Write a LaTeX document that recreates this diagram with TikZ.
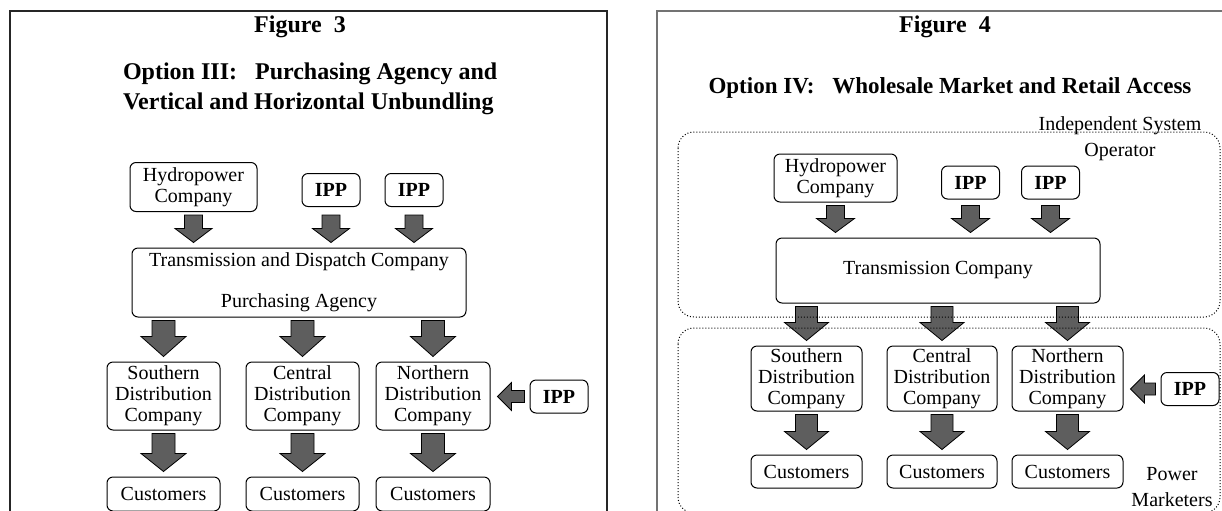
\documentclass[tikz,border=0pt]{standalone}
\usepackage{fontspec}
\setmainfont{Liberation Serif}
\usepackage{tikz}
\usetikzlibrary{calc}
\usetikzlibrary{positioning}
\tikzset{
    box/.style={
           rectangle,
           rounded corners=3pt,
           draw=black, line width=0.5pt,
           fill=white,
           align=center,
           inner sep=1pt,
           font=\fontsize{10}{10.5}\selectfont,
           },
    ipp/.style={
           box,
           font=\fontsize{10}{10.5}\selectfont\bfseries,
           minimum width=29pt,
           minimum height=16.5pt,
           },
    pil/.style={
           draw=black, line width=0.4pt,
           fill=black!63,
           },
    zone/.style={
           draw=black, line width=0.5pt,
           dash pattern=on 0.5pt off 1pt,
           rounded corners=8pt,
           },
    heading/.style={
           font=\fontsize{12}{15}\selectfont\bfseries,
           align=left,
           },
    zonelabel/.style={
           font=\fontsize{10}{13}\selectfont,
           align=center,
           inner sep=0pt,
           }
}
% fat block arrow, downwards: start, end, shaft half, head half, head length
\newcommand{\pildown}[5]{\path[pil] let \p1=#1, \p2=#2 in
  (\x1-#3,\y1-1.5pt) -- (\x1+#3,\y1-1.5pt) -- (\x1+#3,\y2+2.5pt+#5) -- (\x1+#4,\y2+2.5pt+#5)
  -- (\x1,\y2+2.5pt) -- (\x1-#4,\y2+2.5pt+#5) -- (\x1-#3,\y2+2.5pt+#5) -- cycle;}
% fat block arrow, to the left
\newcommand{\pilleft}[5]{\path[pil] let \p1=#1, \p2=#2 in
  (\x1-2.5pt,\y1-#3) -- (\x1-2.5pt,\y1+#3) -- (\x2+3.5pt+#5,\y1+#3) -- (\x2+3.5pt+#5,\y1+#4)
  -- (\x2+3.5pt,\y1) -- (\x2+3.5pt+#5,\y1-#4) -- (\x2+3.5pt+#5,\y1-#3) -- cycle;}

\begin{document}
\begin{tikzpicture}[x=0.5pt,y=-0.5pt]
\useasboundingbox (0,0) rectangle (1222,510);
% frames
\draw[black!85, line width=0.6pt] (10,512) -- (10,11) -- (607,11) -- (607,512);
\draw[black!55, line width=1pt] (657,512) -- (657,11) -- (1224,11);

% Figure 3
\node[heading] (figL) at (300,27) {Figure\ \ 3};
\node[heading, anchor=west] (optL) at (116,89) {Option III:\hspace{9pt}Purchasing Agency and\\Vertical and Horizontal Unbundling};
\node[box, minimum width=63.5pt, minimum height=24.5pt] (hydL) at (193.5,187) {Hydropower\\Company};
\node[ipp] (ippLa) at (331,190) {IPP};
\node[ipp] (ippLb) at (414,190) {IPP};
\node[box, minimum width=167pt, minimum height=34.5pt] (transL) at (299,282.5) {Transmission and Dispatch Company\\[10pt]Purchasing Agency};
\node[box, minimum width=56.5pt, minimum height=34pt] (sdcL) at (163.5,396) {Southern\\Distribution\\Company};
\node[box, minimum width=56.5pt, minimum height=34pt] (cdcL) at (302.5,396) {Central\\Distribution\\Company};
\node[box, minimum width=57pt, minimum height=34pt] (ndcL) at (433,396) {Northern\\Distribution\\Company};
\node[ipp] (ippLn) at (559,396.5) {IPP};
\node[box, minimum width=56.5pt, minimum height=17pt] (cusLs) at (163.5,494) {Customers};
\node[box, minimum width=56.5pt, minimum height=17pt] (cusLc) at (302.5,494) {Customers};
\node[box, minimum width=57pt, minimum height=17pt] (cusLn) at (433,494) {Customers};
\pildown{(hydL.south)}{(transL.north)}{4.5pt}{9.25pt}{7pt}
\pildown{(ippLa.south |- hydL.south)}{(transL.north)}{4.5pt}{9.25pt}{7pt}
\pildown{(ippLb.south |- hydL.south)}{(transL.north)}{4.5pt}{9.25pt}{7pt}
\pildown{(transL.south -| sdcL.north)}{(sdcL.north)}{5.75pt}{11.25pt}{10pt}
\pildown{(transL.south -| cdcL.north)}{(cdcL.north)}{5.75pt}{11.25pt}{10pt}
\pildown{(transL.south -| ndcL.north)}{(ndcL.north)}{5.75pt}{11.25pt}{10pt}
\pildown{(sdcL.south)}{(cusLs.north)}{5.75pt}{11.25pt}{9pt}
\pildown{(cdcL.south)}{(cusLc.north)}{5.75pt}{11.25pt}{9pt}
\pildown{(ndcL.south)}{(cusLn.north)}{5.75pt}{11.25pt}{9pt}
\pilleft{(ippLn.west)}{(ndcL.east)}{3pt}{7pt}{7pt}

% Figure 4
\node[heading] (figR) at (945,27) {Figure\ \ 4};
\node[heading, font=\fontsize{11.5}{14}\selectfont\bfseries] (optR) at (950,88) {Option IV:\hspace{9pt}Wholesale Market and Retail Access};
\node[box, minimum width=61.5pt, minimum height=24pt] (hydR) at (835.5,178) {Hydropower\\Company};
\node[ipp] (ippRa) at (970.5,182.5) {IPP};
\node[ipp] (ippRb) at (1050.5,182.5) {IPP};
\node[box, minimum width=162pt, minimum height=32.5pt] (transR) at (938,270.5) {Transmission Company};
\node[box, minimum width=55.5pt, minimum height=32.5pt] (sdcR) at (806.5,378.5) {Southern\\Distribution\\Company};
\node[box, minimum width=55pt, minimum height=32.5pt] (cdcR) at (942,378.5) {Central\\Distribution\\Company};
\node[box, minimum width=55.5pt, minimum height=32.5pt] (ndcR) at (1067.5,378.5) {Northern\\Distribution\\Company};
\node[ipp] (ippRn) at (1190,389) {IPP};
\node[box, minimum width=55.5pt, minimum height=16.5pt] (cusRs) at (806.5,471.5) {Customers};
\node[box, minimum width=55pt, minimum height=16.5pt] (cusRc) at (942,471.5) {Customers};
\node[box, minimum width=55.5pt, minimum height=16.5pt] (cusRn) at (1067.5,471.5) {Customers};
\pildown{(hydR.south)}{(transR.north)}{4.5pt}{9.5pt}{7pt}
\pildown{(ippRa.south |- hydR.south)}{(transR.north)}{4.5pt}{9.5pt}{7pt}
\pildown{(ippRb.south |- hydR.south)}{(transR.north)}{4.5pt}{9.5pt}{7pt}
\pildown{(transR.south -| sdcR.north)}{(sdcR.north)}{5.5pt}{11pt}{9pt}
\pildown{(transR.south -| cdcR.north)}{(cdcR.north)}{5.5pt}{11pt}{9pt}
\pildown{(transR.south -| ndcR.north)}{(ndcR.north)}{5.5pt}{11pt}{9pt}
\pildown{(sdcR.south)}{(cusRs.north)}{5.5pt}{11pt}{9pt}
\pildown{(cdcR.south)}{(cusRc.north)}{5.5pt}{11pt}{9pt}
\pildown{(ndcR.south)}{(cusRn.north)}{5.5pt}{11pt}{9pt}
\pilleft{(ippRn.west)}{(ndcR.east)}{3pt}{7pt}{7pt}
% dotted zones on top
\draw[zone] (678,132) rectangle (1220,317);
\draw[zone] (678,328) rectangle (1220,513);
\node[zonelabel] (iso) at (1120,139) {Independent System\\Operator};
\node[zonelabel] (pm) at (1172,487) {Power\\Marketers};
\end{tikzpicture}
\end{document}
